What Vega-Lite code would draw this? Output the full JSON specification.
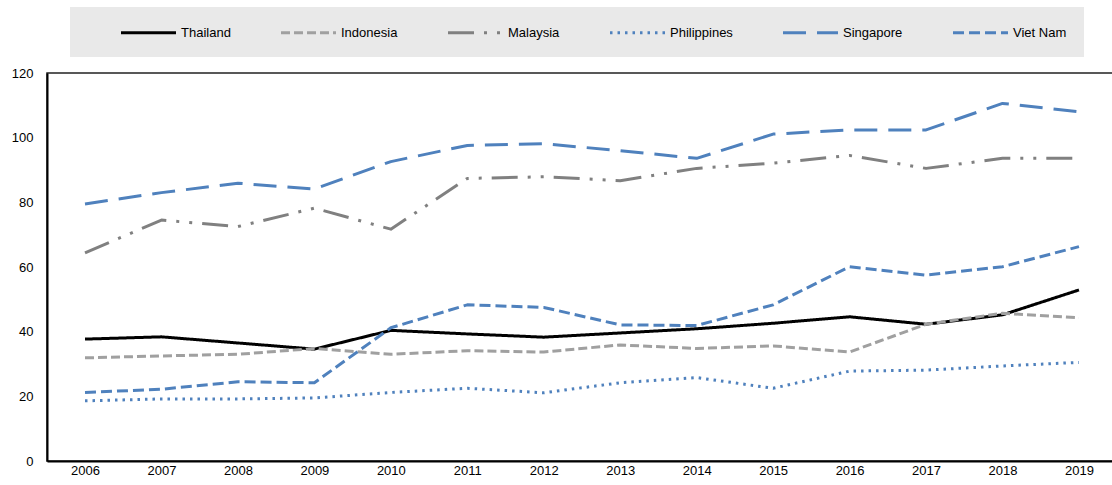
{
  "$schema": "https://vega.github.io/schema/vega-lite/v6.json",
  "autosize": {"type": "none"},
  "padding": {"left": 47, "top": 73, "right": 0, "bottom": 24},
  "width": 1066,
  "height": 388,
  "background": "#ffffff",
  "config": {
    "font": "Liberation Sans",
    "view": {"stroke": "#222222", "strokeWidth": 1.5},
    "axis": {"labelFont": "Liberation Sans", "labelFontSize": 13, "labelColor": "#000000", "grid": false, "ticks": false, "domainColor": "#000000", "domainWidth": 2, "title": null}
  },
  "data": {"values": [
    {"year": 2006, "country": "Thailand", "value": 37.7},
    {"year": 2007, "country": "Thailand", "value": 38.4},
    {"year": 2008, "country": "Thailand", "value": 36.5},
    {"year": 2009, "country": "Thailand", "value": 34.6},
    {"year": 2010, "country": "Thailand", "value": 40.4},
    {"year": 2011, "country": "Thailand", "value": 39.3},
    {"year": 2012, "country": "Thailand", "value": 38.3},
    {"year": 2013, "country": "Thailand", "value": 39.6},
    {"year": 2014, "country": "Thailand", "value": 40.9},
    {"year": 2015, "country": "Thailand", "value": 42.6},
    {"year": 2016, "country": "Thailand", "value": 44.6},
    {"year": 2017, "country": "Thailand", "value": 42.3},
    {"year": 2018, "country": "Thailand", "value": 45.2},
    {"year": 2019, "country": "Thailand", "value": 52.9},
    {"year": 2006, "country": "Indonesia", "value": 31.9},
    {"year": 2007, "country": "Indonesia", "value": 32.5},
    {"year": 2008, "country": "Indonesia", "value": 33.0},
    {"year": 2009, "country": "Indonesia", "value": 34.8},
    {"year": 2010, "country": "Indonesia", "value": 33.0},
    {"year": 2011, "country": "Indonesia", "value": 34.1},
    {"year": 2012, "country": "Indonesia", "value": 33.7},
    {"year": 2013, "country": "Indonesia", "value": 35.9},
    {"year": 2014, "country": "Indonesia", "value": 34.8},
    {"year": 2015, "country": "Indonesia", "value": 35.6},
    {"year": 2016, "country": "Indonesia", "value": 33.7},
    {"year": 2017, "country": "Indonesia", "value": 42.3},
    {"year": 2018, "country": "Indonesia", "value": 45.7},
    {"year": 2019, "country": "Indonesia", "value": 44.3},
    {"year": 2006, "country": "Malaysia", "value": 64.4},
    {"year": 2007, "country": "Malaysia", "value": 74.5},
    {"year": 2008, "country": "Malaysia", "value": 72.5},
    {"year": 2009, "country": "Malaysia", "value": 78.2},
    {"year": 2010, "country": "Malaysia", "value": 71.7},
    {"year": 2011, "country": "Malaysia", "value": 87.4},
    {"year": 2012, "country": "Malaysia", "value": 87.9},
    {"year": 2013, "country": "Malaysia", "value": 86.7},
    {"year": 2014, "country": "Malaysia", "value": 90.5},
    {"year": 2015, "country": "Malaysia", "value": 92.1},
    {"year": 2016, "country": "Malaysia", "value": 94.5},
    {"year": 2017, "country": "Malaysia", "value": 90.5},
    {"year": 2018, "country": "Malaysia", "value": 93.6},
    {"year": 2019, "country": "Malaysia", "value": 93.6},
    {"year": 2006, "country": "Philippines", "value": 18.6},
    {"year": 2007, "country": "Philippines", "value": 19.2},
    {"year": 2008, "country": "Philippines", "value": 19.2},
    {"year": 2009, "country": "Philippines", "value": 19.5},
    {"year": 2010, "country": "Philippines", "value": 21.2},
    {"year": 2011, "country": "Philippines", "value": 22.5},
    {"year": 2012, "country": "Philippines", "value": 21.1},
    {"year": 2013, "country": "Philippines", "value": 24.2},
    {"year": 2014, "country": "Philippines", "value": 25.8},
    {"year": 2015, "country": "Philippines", "value": 22.5},
    {"year": 2016, "country": "Philippines", "value": 27.8},
    {"year": 2017, "country": "Philippines", "value": 28.1},
    {"year": 2018, "country": "Philippines", "value": 29.4},
    {"year": 2019, "country": "Philippines", "value": 30.5},
    {"year": 2006, "country": "Singapore", "value": 79.5},
    {"year": 2007, "country": "Singapore", "value": 83.0},
    {"year": 2008, "country": "Singapore", "value": 85.9},
    {"year": 2009, "country": "Singapore", "value": 84.1},
    {"year": 2010, "country": "Singapore", "value": 92.6},
    {"year": 2011, "country": "Singapore", "value": 97.6},
    {"year": 2012, "country": "Singapore", "value": 98.1},
    {"year": 2013, "country": "Singapore", "value": 96.0},
    {"year": 2014, "country": "Singapore", "value": 93.6},
    {"year": 2015, "country": "Singapore", "value": 101.1},
    {"year": 2016, "country": "Singapore", "value": 102.4},
    {"year": 2017, "country": "Singapore", "value": 102.4},
    {"year": 2018, "country": "Singapore", "value": 110.6},
    {"year": 2019, "country": "Singapore", "value": 108.0},
    {"year": 2006, "country": "Viet Nam", "value": 21.2},
    {"year": 2007, "country": "Viet Nam", "value": 22.2},
    {"year": 2008, "country": "Viet Nam", "value": 24.5},
    {"year": 2009, "country": "Viet Nam", "value": 24.2},
    {"year": 2010, "country": "Viet Nam", "value": 41.2},
    {"year": 2011, "country": "Viet Nam", "value": 48.3},
    {"year": 2012, "country": "Viet Nam", "value": 47.5},
    {"year": 2013, "country": "Viet Nam", "value": 42.1},
    {"year": 2014, "country": "Viet Nam", "value": 41.9},
    {"year": 2015, "country": "Viet Nam", "value": 48.3},
    {"year": 2016, "country": "Viet Nam", "value": 60.1},
    {"year": 2017, "country": "Viet Nam", "value": 57.5},
    {"year": 2018, "country": "Viet Nam", "value": 60.1},
    {"year": 2019, "country": "Viet Nam", "value": 66.3}
  ]},
  "mark": {"type": "line", "strokeWidth": 3, "strokeCap": "butt", "strokeJoin": "round"},
  "encoding": {
    "x": {
      "field": "year", "type": "quantitative",
      "scale": {"domain": [2005.503, 2019.445], "nice": false, "zero": false},
      "axis": {"values": [2006, 2007, 2008, 2009, 2010, 2011, 2012, 2013, 2014, 2015, 2016, 2017, 2018, 2019], "format": "d", "labelPadding": 3, "labelFlush": false}
    },
    "y": {
      "field": "value", "type": "quantitative",
      "scale": {"domain": [0, 120], "nice": false},
      "axis": {"values": [0, 20, 40, 60, 80, 100, 120], "labelPadding": 14}
    },
    "color": {
      "field": "country", "type": "nominal",
      "scale": {
        "domain": ["Thailand", "Indonesia", "Malaysia", "Philippines", "Singapore", "Viet Nam"],
        "range": ["#000000", "#a0a0a0", "#808080", "#4f81bd", "#4f81bd", "#4f81bd"]
      },
      "legend": {
        "title": null, "orient": "none", "legendX": 23, "legendY": -66,
        "direction": "horizontal", "columns": 6, "gridAlign": "each",
        "columnPadding": 16, "padding": 17, "fillColor": "#e9e9e9",
        "symbolType": "M-4,0H4", "symbolSize": 189, "symbolStrokeWidth": 3, "symbolOffset": 53,
        "labelOffset": 24, "labelFontSize": 13, "labelColor": "#000000", "labelFont": "Liberation Sans"
      }
    },
    "strokeDash": {
      "field": "country", "type": "nominal",
      "scale": {
        "domain": ["Thailand", "Indonesia", "Malaysia", "Philippines", "Singapore", "Viet Nam"],
        "range": [[1, 0], [9, 4], [26, 10, 3, 10, 3, 10], [2.5, 5], [23, 11], [11, 5]]
      },
      "legend": {
        "title": null, "orient": "none", "legendX": 23, "legendY": -66,
        "direction": "horizontal", "columns": 6, "gridAlign": "each",
        "columnPadding": 16, "padding": 17, "fillColor": "#e9e9e9",
        "symbolType": "M-4,0H4", "symbolSize": 189, "symbolStrokeWidth": 3, "symbolOffset": 53,
        "labelOffset": 24, "labelFontSize": 13, "labelColor": "#000000", "labelFont": "Liberation Sans"
      }
    }
  }
}
